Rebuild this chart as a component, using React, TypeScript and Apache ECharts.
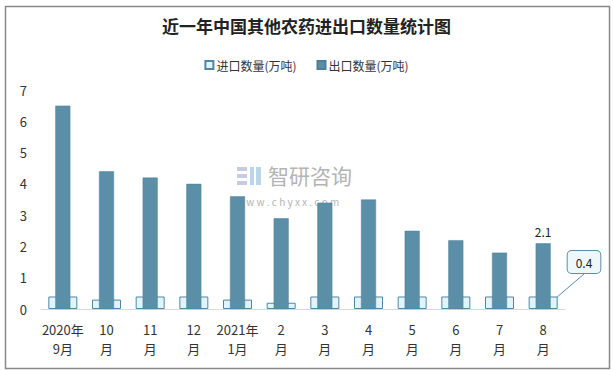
import React, { useEffect, useRef } from "react";
import * as echarts from "echarts";

const categories = ["2020年\n9月", "10\n月", "11\n月", "12\n月", "2021年\n1月", "2\n月", "3\n月", "4\n月", "5\n月", "6\n月", "7\n月", "8\n月"];
const importValues = [0.4, 0.3, 0.4, 0.4, 0.3, 0.2, 0.4, 0.4, 0.4, 0.4, 0.4, 0.4];
const exportValues = [6.5, 4.4, 4.2, 4.0, 3.6, 2.9, 3.4, 3.5, 2.5, 2.2, 1.8, 2.1];
const yTicks = [0, 1, 2, 3, 4, 5, 6, 7];

const FONT = '"Noto Sans CJK SC", "Noto Sans", sans-serif';

export default function App() {
  const ref = useRef<HTMLDivElement>(null);
  useEffect(() => {
    const chart = echarts.init(ref.current!, null, { renderer: "svg" });
    const last = exportValues.length - 1;
    chart.setOption({
      animation: false,
      backgroundColor: "#ffffff",
      textStyle: { fontFamily: FONT },
      title: {
        text: "近一年中国其他农药进出口数量统计图",
        left: "center",
        top: 12,
        textStyle: { fontSize: 17, fontWeight: "bold", color: "#222", fontFamily: FONT },
      },
      legend: {
        top: 54,
        left: "center",
        itemWidth: 8,
        itemHeight: 8,
        itemGap: 20,
        icon: "rect",
        textStyle: { fontSize: 12, color: "#333", padding: [0, 0, 0, -2] },
        data: ["进口数量(万吨)", "出口数量(万吨)"],
      },
      grid: { left: 41, right: 48, top: 90, bottom: 61, containLabel: false },
      xAxis: [
        {
          type: "category",
          data: categories,
          axisLine: { show: true, lineStyle: { color: "#d9d9d9", width: 1 } },
          axisTick: { show: false },
          axisLabel: { fontSize: 13, color: "#333", lineHeight: 19, margin: 11, interval: 0 },
        },
        {
          type: "category",
          data: categories,
          show: false,
        },
      ],
      yAxis: {
        type: "value",
        min: yTicks[0],
        max: yTicks[yTicks.length - 1],
        interval: 1,
        axisLine: { show: false },
        axisTick: { show: false },
        splitLine: { show: false },
        axisLabel: { fontSize: 13, color: "#333", margin: 14 },
      },
      series: [
        {
          name: "进口数量(万吨)",
          type: "bar",
          xAxisIndex: 0,
          barWidth: 29,
          z: 1,
          itemStyle: { color: "#e2f4fa", borderColor: "#4f87a1", borderWidth: 1 },
          data: importValues.map((v, i) =>
            i === last
              ? {
                  value: v,
                  label: {
                    show: true,
                    formatter: "0.4",
                    fontSize: 12,
                    color: "#222",
                    backgroundColor: "#eef8fb",
                    borderColor: "#5b8fa8",
                    borderWidth: 1,
                    borderRadius: 4,
                    padding: [5, 8],
                  },
                }
              : v
          ),
          labelLayout: (p: any) =>
            p.dataIndex === last ? { x: 584, y: 262, align: "center", verticalAlign: "middle" } : {},
          labelLine: { show: true, lineStyle: { color: "#5b8fa8", width: 1 } },
        },
        {
          name: "出口数量(万吨)",
          type: "bar",
          xAxisIndex: 1,
          barWidth: 15,
          z: 2,
          itemStyle: { color: "#5b8fa8", borderColor: "#4f7f96", borderWidth: 0.5 },
          data: exportValues.map((v, i) =>
            i === last
              ? { value: v, label: { show: true, position: "top", fontSize: 12, color: "#222", distance: 6 } }
              : v
          ),
        },
      ],
      graphic: [
        {
          type: "rect",
          left: 3,
          top: 4,
          shape: { width: 604, height: 362 },
          style: { fill: "none", stroke: "#888", lineWidth: 1.5 },
          silent: true,
          z: 100,
        },
        {
          type: "group",
          left: 237,
          top: 167,
          z: 0,
          children: [
            { type: "rect", shape: { x: 0, y: 0, width: 10, height: 4 }, style: { fill: "#c5cbe0" } },
            { type: "rect", shape: { x: 0, y: 7, width: 10, height: 4 }, style: { fill: "#c5cbe0" } },
            { type: "rect", shape: { x: 0, y: 14, width: 10, height: 4 }, style: { fill: "#c5cbe0" } },
            { type: "rect", shape: { x: 13, y: 0, width: 4, height: 18 }, style: { fill: "#b8d6ec" } },
            { type: "rect", shape: { x: 19, y: 0, width: 5, height: 18 }, style: { fill: "#b8d6ec" } },
          ],
        },
        {
          type: "text",
          left: 268,
          top: 164,
          z: 0,
          style: { text: "智研咨询", fontSize: 21, lineHeight: 22, fill: "#b4b4b4", fontFamily: FONT, letterSpacing: 5 },
        },
        {
          type: "text",
          left: 236,
          top: 196,
          z: 0,
          style: { text: "w w w . c h y x x . c o m", fontSize: 10, lineHeight: 10, fill: "#b4b4b4", fontFamily: FONT },
        },
      ],
    });
    return () => chart.dispose();
  }, []);
  return (
    <div
      ref={ref}
      style={{ position: "fixed", left: 0, top: 0, width: 613, height: 370 }}
    />
  );
}
